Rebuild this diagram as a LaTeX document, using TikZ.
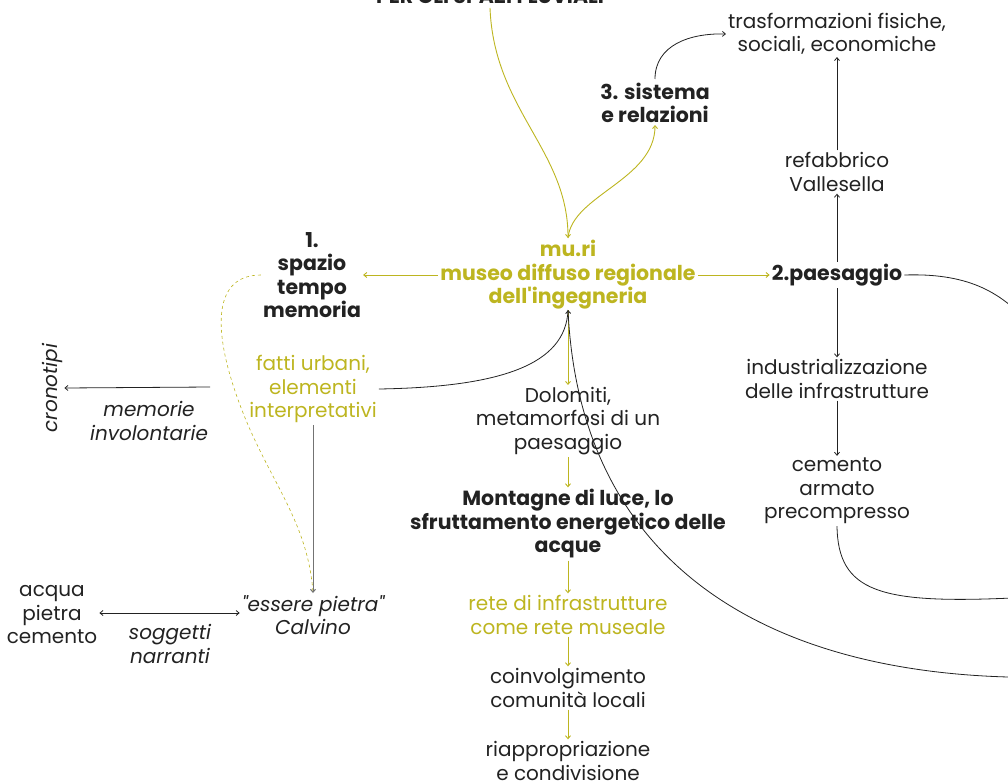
\documentclass[tikz,border=0pt]{standalone}
\usepackage{fontspec}
\setmainfont{Poppins}[Ligatures=TeXOff]
\usetikzlibrary{arrows.meta}
\definecolor{olive}{HTML}{BDB520}
\definecolor{ink}{HTML}{222222}
\newcommand{\dq}{\symbol{34}}
\newcommand{\sq}{\symbol{39}}
\tikzset{
  txt/.style={align=center, inner sep=2pt, text=ink, font=\fontsize{20}{23.5}\selectfont},
  hl/.style={txt, text=olive},
  bld/.style={txt, font=\fontsize{20.5}{23.5}\selectfont\bfseries},
  itl/.style={txt, font=\fontsize{20}{23.5}\selectfont\itshape},
  tip/.style={-{Straight Barb[length=3pt,width=5pt]}},
  blk/.style={draw=ink, line width=0.8pt},
  ylw/.style={draw=olive, line width=0.9pt},
}
\begin{document}
\begin{tikzpicture}[x=1pt,y=-1pt]
\useasboundingbox (0,0) rectangle (1008,781);
\clip (0,0) rectangle (1008,781);

% central column
\node[bld, text=olive] (muri) at (568,275) {mu.ri\\museo diffuso regionale\\dell\sq ingegneria};
\node[txt] (dolo) at (568,421) {Dolomiti,\\metamorfosi di un\\paesaggio};
\node[bld] (mont) at (568,524) {Montagne di luce, lo\\sfruttamento energetico delle\\acque};
\node[hl] (rete) at (568,615) {rete di infrastrutture\\come rete museale};
\node[txt] (coin) at (568,688) {coinvolgimento\\comunità locali};
\node[txt] (riap) at (568,761) {riappropriazione\\e condivisione};

% top
\node[bld, anchor=base] (title) at (490,4) {PER GLI SPAZI FLUVIALI};
\node[bld] (sist) at (655,103) {3. sistema\\e relazioni};
\node[txt] (trasf) at (837,34) {trasformazioni fisiche,\\sociali, economiche};

% right column
\node[txt] (refab) at (837,172) {refabbrico\\Vallesella};
\node[bld] (paes) at (837,275) {2.paesaggio};
\node[txt] (indu) at (837,379) {industrializzazione\\delle infrastrutture};
\node[txt] (cem) at (837,491) {cemento\\armato\\precompresso};

% left
\node[bld] (spazio) at (312,275) {1.\\spazio\\tempo\\memoria};
\node[hl] (fatti) at (313,389) {fatti urbani,\\elementi\\interpretativi};
\node[itl, rotate=90] (crono) at (52,388) {cronotipi};
\node[itl] (memo) at (149,421) {memorie\\involontarie};
\node[itl] (pietra) at (313,615) {\dq essere pietra\dq\\Calvino};
\node[txt] (acqua) at (52,615) {acqua\\pietra\\cemento};
\node[itl] (sogg) at (170,644) {soggetti\\narranti};

\coordinate (muriTop) at (568,238);
\coordinate (muriBot) at (568,310);
\coordinate (sistTop) at (655,79);
\coordinate (sistBot) at (655,125);
\coordinate (titleBot) at (490,8);

% yellow connectors
\draw[ylw, tip] (titleBot) .. controls (494,110) and (568,150) .. (muriTop);
\draw[ylw, tip] (muriTop) .. controls (572,195) and (655,180) .. (sistBot);
\draw[ylw, tip] (muri.west) -- (spazio.east);
\draw[ylw, tip] (muri.east) -- (paes.west);
\draw[ylw, tip] (muriBot) -- (dolo.north);
\draw[ylw, tip] (dolo.south) -- (mont.north);
\draw[ylw, tip] (mont.south) -- (rete.north);
\draw[ylw, tip] (rete.south) -- (coin.north);
\draw[ylw, tip] (coin.south) -- (riap.north);
\draw[ylw, dashed, line width=0.6pt] (spazio.west) .. controls (215,275) and (210,325) .. (240,405)
  .. controls (268,480) and (308,520) .. (pietra.north);

% black connectors
\draw[blk, tip] (sistTop) .. controls (655,45) and (690,33) .. (trasf.west);
\draw[blk, tip] (refab.north) -- (trasf.south);
\draw[blk, tip] (paes.north) -- (refab.south);
\draw[blk, tip] (paes.south) -- (indu.north);
\draw[blk, tip] (indu.south) -- (cem.north);
\draw[blk] (paes.east) .. controls (965,273) and (1000,290) .. (1030,325);
\draw[blk] (cem.south) .. controls (838,592) and (880,604) .. (1012,598);
\draw[blk, tip] (1008,677) .. controls (760,670) and (580,560) .. (muriBot);
\draw[blk] (fatti.east) .. controls (500,387) and (566,365) .. (muriBot);
\draw[draw=gray!90!black, line width=1pt, tip] (fatti.south) -- (pietra.north);
\draw[blk, tip] (memo.north east |- 0,387) -- (crono.south);
\draw[blk, {Straight Barb[length=3pt,width=5pt]}-{Straight Barb[length=3pt,width=5pt]}] (acqua.east |- 0,613) -- (pietra.west |- 0,613);
\end{tikzpicture}
\end{document}
